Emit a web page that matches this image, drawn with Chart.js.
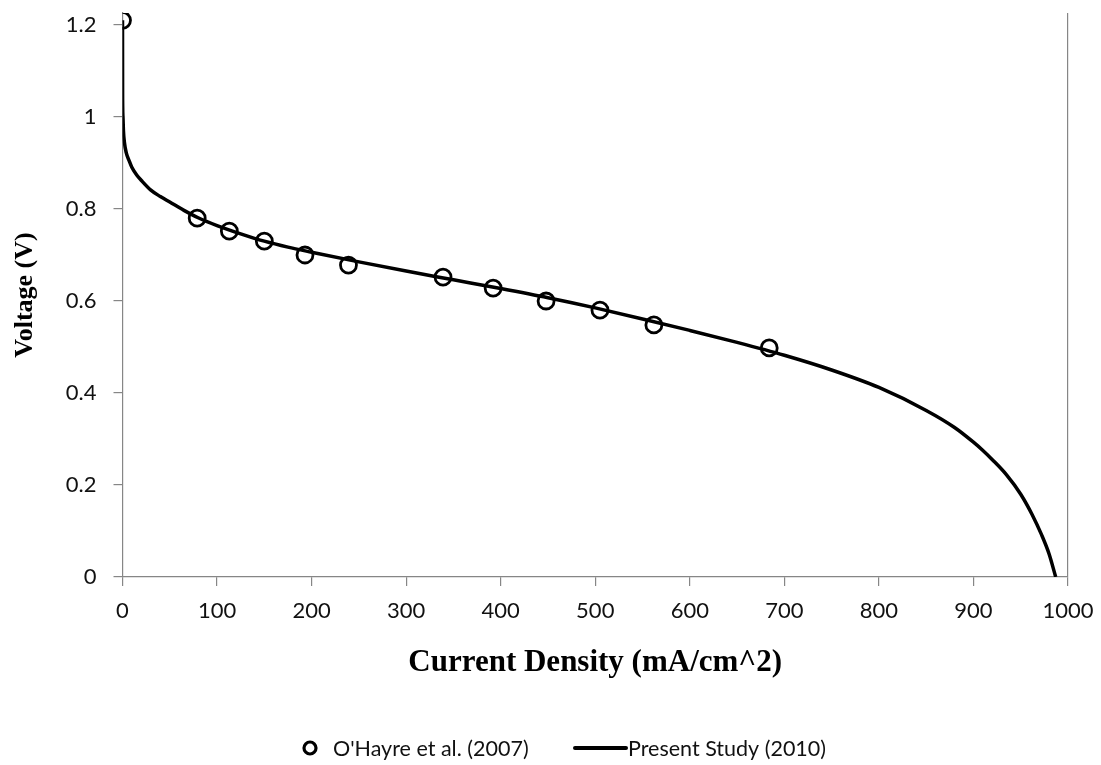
<!DOCTYPE html>
<html>
<head>
<meta charset="utf-8">
<script src="https://cdn.jsdelivr.net/npm/chart.js@4/dist/chart.umd.min.js"></script>
<style>
  html, body { margin: 0; padding: 0; background: #fff; }
  #wrap { width: 1101px; height: 765px; }
</style>
</head>
<body>
<div id="wrap"><canvas id="chart" width="1101" height="765"></canvas></div>
<script>
// measured points (O'Hayre et al.)
const measuredCurrent = [0, 79, 113, 150, 193, 239, 339, 392, 448, 505, 562, 684];
const measuredVoltage = [1.21, 0.78, 0.752, 0.73, 0.70, 0.678, 0.652, 0.628, 0.60, 0.58, 0.548, 0.498];

// model curve (present study)
const modelCurrent = [0, 0.1, 0.5, 1, 2, 4, 7, 10, 15, 20, 30, 40, 50, 65, 80, 100, 125, 150, 175, 200,
  250, 300, 350, 400, 450, 500, 550, 600, 650, 700, 750, 800, 850, 880, 900, 910, 920, 935, 950, 962, 972, 980, 987];
const modelVoltage = [1.21, 1.05, 1.0, 0.97, 0.945, 0.922, 0.905, 0.89, 0.874, 0.862, 0.841, 0.827, 0.815, 0.797, 0.781, 0.764,
  0.746, 0.73, 0.717, 0.706, 0.685, 0.665, 0.646, 0.627, 0.607, 0.585, 0.561, 0.536, 0.51, 0.482, 0.45, 0.412, 0.362,
  0.325, 0.293, 0.275, 0.255, 0.222, 0.18, 0.136, 0.092, 0.05, 0];

const xTicks = [0, 100, 200, 300, 400, 500, 600, 700, 800, 900, 1000];
const yTicks = [0, 0.2, 0.4, 0.6, 0.8, 1, 1.2];

const seriesNames = ["O'Hayre et al. (2007)", 'Present Study (2010)'];

const axisGray = '#868686';
const tickFont = { family: 'Lato, "Open Sans", sans-serif', size: 22 };
const serif = '"Liberation Serif", "Times New Roman", serif';

const toPoints = (xs, ys) => xs.map((x, i) => ({ x: x, y: ys[i] }));

// bottom legend drawn on the canvas
const bottomLegend = {
  id: 'bottomLegend',
  afterDraw(chart) {
    const ctx = chart.ctx;
    const y = 748;
    ctx.save();
    ctx.font = '21.5px Lato, "Open Sans", sans-serif';
    ctx.fillStyle = '#111';
    ctx.textBaseline = 'middle';

    ctx.beginPath();
    ctx.arc(310, y, 6, 0, Math.PI * 2);
    ctx.lineWidth = 3.2;
    ctx.strokeStyle = '#000';
    ctx.stroke();
    ctx.fillText(seriesNames[0], 333, y + 1);

    ctx.beginPath();
    ctx.moveTo(575, y);
    ctx.lineTo(626, y);
    ctx.lineWidth = 4;
    ctx.lineCap = 'round';
    ctx.stroke();
    ctx.fillText(seriesNames[1], 628, y + 1);
    ctx.restore();
  }
};

new Chart(document.getElementById('chart'), {
  type: 'scatter',
  data: {
    datasets: [
      {
        label: seriesNames[1],
        data: toPoints(modelCurrent, modelVoltage),
        showLine: true,
        borderColor: '#000',
        borderWidth: 3.5,
        pointRadius: 0,
        cubicInterpolationMode: 'monotone',
        order: 2
      },
      {
        label: seriesNames[0],
        data: toPoints(measuredCurrent, measuredVoltage),
        showLine: false,
        pointStyle: 'circle',
        pointRadius: 8,
        pointBorderWidth: 2.8,
        pointBorderColor: '#000',
        pointBackgroundColor: 'rgba(0,0,0,0)',
        order: 1
      }
    ]
  },
  options: {
    responsive: false,
    animation: false,
    layout: { padding: { top: 13, right: 33, bottom: 80, left: 0 } },
    plugins: {
      legend: { display: false },
      tooltip: { enabled: false }
    },
    scales: {
      x: {
        type: 'linear',
        min: 0,
        max: 1000,
        afterBuildTicks: s => { s.ticks = xTicks.map(v => ({ value: v })); },
        afterFit: s => { s.height = 108; s.paddingLeft = 0; s.paddingRight = 0; },
        border: { color: axisGray, width: 1.2 },
        grid: {
          drawOnChartArea: true,
          color: c => (c.tick && c.tick.value === 1000 ? axisGray : 'rgba(0,0,0,0)'),
          tickColor: axisGray,
          tickLength: 9,
          lineWidth: 1.2
        },
        ticks: { color: '#111', font: tickFont, padding: 12, maxRotation: 0, callback: v => String(v) },
        title: {
          display: true,
          text: 'Current Density (mA/cm^2)',
          color: '#000',
          font: { family: serif, weight: 'bold', size: 31 },
          padding: { top: 0, bottom: 3 }
        }
      },
      y: {
        type: 'linear',
        min: 0,
        max: 1.226,
        afterBuildTicks: s => { s.ticks = yTicks.map(v => ({ value: v })); },
        afterFit: s => { s.width = 122.5; s.paddingTop = 0; s.paddingBottom = 0; },
        border: { color: axisGray, width: 1.2 },
        grid: {
          drawOnChartArea: false,
          tickColor: axisGray,
          tickLength: 9,
          lineWidth: 1.2
        },
        ticks: { color: '#111', font: tickFont, padding: 17, callback: v => String(Math.round(v * 10) / 10) },
        title: {
          display: true,
          text: 'Voltage (V)',
          color: '#000',
          font: { family: serif, weight: 'bold', size: 26 },
          padding: { top: 10, bottom: 0 }
        }
      }
    }
  },
  plugins: [bottomLegend]
});
</script>
</body>
</html>
